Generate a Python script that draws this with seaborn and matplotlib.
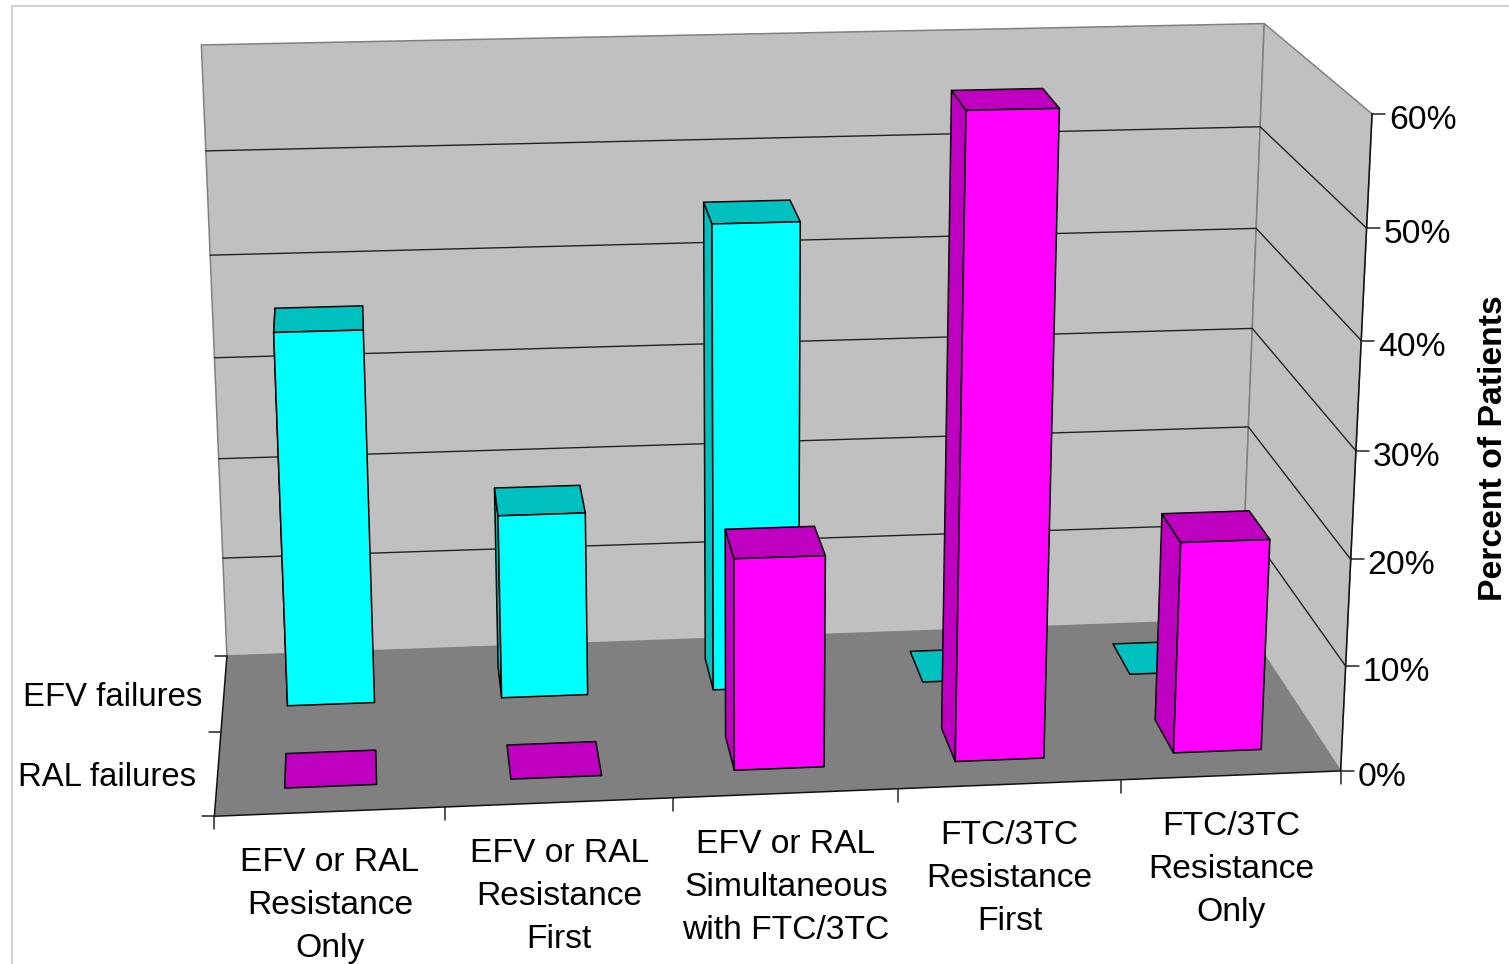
import numpy as np
import pandas as pd
import matplotlib
matplotlib.use('Agg')
import matplotlib.pyplot as plt
import seaborn as sns

# data
categories = ['EFV or RAL\nResistance\nOnly', 'EFV or RAL\nResistance\nFirst',
              'EFV or RAL\nSimultaneous\nwith FTC/3TC', 'FTC/3TC\nResistance\nFirst',
              'FTC/3TC\nResistance\nOnly']
efv_failures = [36.2, 18, 45.3, 0, 0]
ral_failures = [0, 0, 20, 59.8, 20.1]
z_ticks = [0, 10, 20, 30, 40, 50, 60]

# frame corners of the 3d box: (category, depth, percent) -> pixel, used to fit the projection
box_3d = [(0, 0, 0), (5, 0, 0), (0, 1, 0), (5, 1, 0), (0, 1, 60), (5, 1, 60), (5, 0, 60),
          (0, 1, 30), (5, 1, 30), (5, 0, 30)]
box_px = [(214, 817), (1340, 770), (227, 655), (1241, 621), (201, 45), (1264, 23), (1372, 115),
          (215, 358), (1252, 328), (1357, 450)]


def fit_projection(src, dst):
    rows, rhs = [], []
    for (x, y, z), (u, v) in zip(src, dst):
        rows.append([x, y, z, 1, 0, 0, 0, 0, -u * x, -u * y, -u * z])
        rows.append([0, 0, 0, 0, x, y, z, 1, -v * x, -v * y, -v * z])
        rhs += [u, v]
    p = np.linalg.lstsq(np.array(rows, float), np.array(rhs, float), rcond=None)[0]
    return np.append(p, 1).reshape(3, 4)


P = fit_projection(box_3d, box_px)


def proj(x, y, z):
    u, v, w = P @ np.array([x, y, z, 1.0])
    return u / w, v / w


def poly(ax, pts, color, edge='black', lw=1.1, z=2):
    xy = [proj(*p) for p in pts]
    ax.fill(*zip(*xy), facecolor=color, edgecolor=edge, linewidth=lw, zorder=z, joinstyle='round')


sns.set_theme(style='white')
plt.rcParams['font.family'] = ['Liberation Sans', 'DejaVu Sans']
cyan, magenta, cyan_dark, magenta_dark = sns.color_palette(['#00ffff', '#ff00ff', '#00c0c0', '#c000c0'])

fig = plt.figure(figsize=(15.09, 9.64), dpi=100)
ax = fig.add_axes([0, 0, 1, 1])

# walls and floor
poly(ax, [(0, 1, 0), (5, 1, 0), (5, 1, 60), (0, 1, 60)], '#c0c0c0', edge='#808080', z=1)
poly(ax, [(5, 1, 0), (5, 0, 0), (5, 0, 60), (5, 1, 60)], '#c0c0c0', edge='#808080', z=1)
poly(ax, [(0, 0, 0), (5, 0, 0), (5, 1, 0), (0, 1, 0)], '#808080', edge='none', z=1)

# gridlines through seaborn
grid_rows = []
for t in z_ticks[1:-1]:
    for n, (x, y) in enumerate([(0, 1), (5, 1), (5, 0)]):
        u, v = proj(x, y, t)
        grid_rows.append({'px': u, 'py': v, 'level': t, 'n': n})
grid = pd.DataFrame(grid_rows)
sns.lineplot(data=grid, x='px', y='py', units='level', estimator=None, sort=False,
             color='#222222', linewidth=1.0, legend=False, ax=ax, zorder=1.5)

# frame edges in black
edges = [[(0, 0, 0), (5, 0, 0)], [(0, 0, 0), (0, 1, 0)], [(5, 0, 0), (5, 0, 60)]]
for a, b in edges:
    ax.plot(*zip(proj(*a), proj(*b)), color='#111111', lw=1.1, zorder=1.6)

# ticks
for i in range(6):
    u, v = proj(i, 0, 0)
    ax.plot([u, u], [v, v + 13], color='#222222', lw=1.1, zorder=1.6)
for d in [0, 0.5, 1]:
    u, v = proj(0, d, 0)
    ax.plot([u - 12, u], [v, v], color='#222222', lw=1.1, zorder=1.6)
for t in z_ticks:
    u, v = proj(5, 0, t)
    ax.plot([u, u + 13], [v, v], color='#222222', lw=1.1, zorder=1.6)
    ax.text(u + 17, v + 6.5, f'{t}%', fontsize=24.2, ha='left', va='center', color='black')

# bars, back row first
bar_x = (0.30, 0.705)
rows = [(0.65, 0.86, efv_failures, cyan, cyan_dark), (0.145, 0.35, ral_failures, magenta, magenta_dark)]
zo = 3
for y0, y1, values, front, dark in rows:
    for i, val in enumerate(values):
        x0, x1 = i + bar_x[0], i + bar_x[1]
        if val > 0:
            poly(ax, [(x0, y0, 0), (x0, y1, 0), (x0, y1, val), (x0, y0, val)], dark, z=zo)
            poly(ax, [(x0, y0, val), (x1, y0, val), (x1, y1, val), (x0, y1, val)], dark, z=zo)
            poly(ax, [(x0, y0, 0), (x1, y0, 0), (x1, y0, val), (x0, y0, val)], front, z=zo)
        else:
            poly(ax, [(x0, y0, 0), (x1, y0, 0), (x1, y1, 0), (x0, y1, 0)], dark, z=zo)
        zo += 1

# text
for i, label in enumerate(categories):
    u, v = proj(i + 0.5, 0, 0)
    for n, line in enumerate(label.split('\n')):
        ax.text(u, v + 51 + 43 * n, line, fontsize=24.2, ha='center', va='center', color='black')
ax.text(202, 698, 'EFV failures', fontsize=23.7, ha='right', va='center', color='black')
ax.text(196, 778, 'RAL failures', fontsize=23.7, ha='right', va='center', color='black')
ax.text(1494, 448, 'Percent of Patients', fontsize=24.3, fontweight='bold', rotation=90,
        ha='center', va='center', color='black')

# faint picture border
ax.plot([12, 12, 1509], [964, 6, 6], color='#c8c8c8', lw=1.2, zorder=0.5)

ax.set_xlim(0, 1509)
ax.set_ylim(964, 0)
ax.set_axis_off()
fig.savefig('out.png', dpi=100, facecolor='white')
